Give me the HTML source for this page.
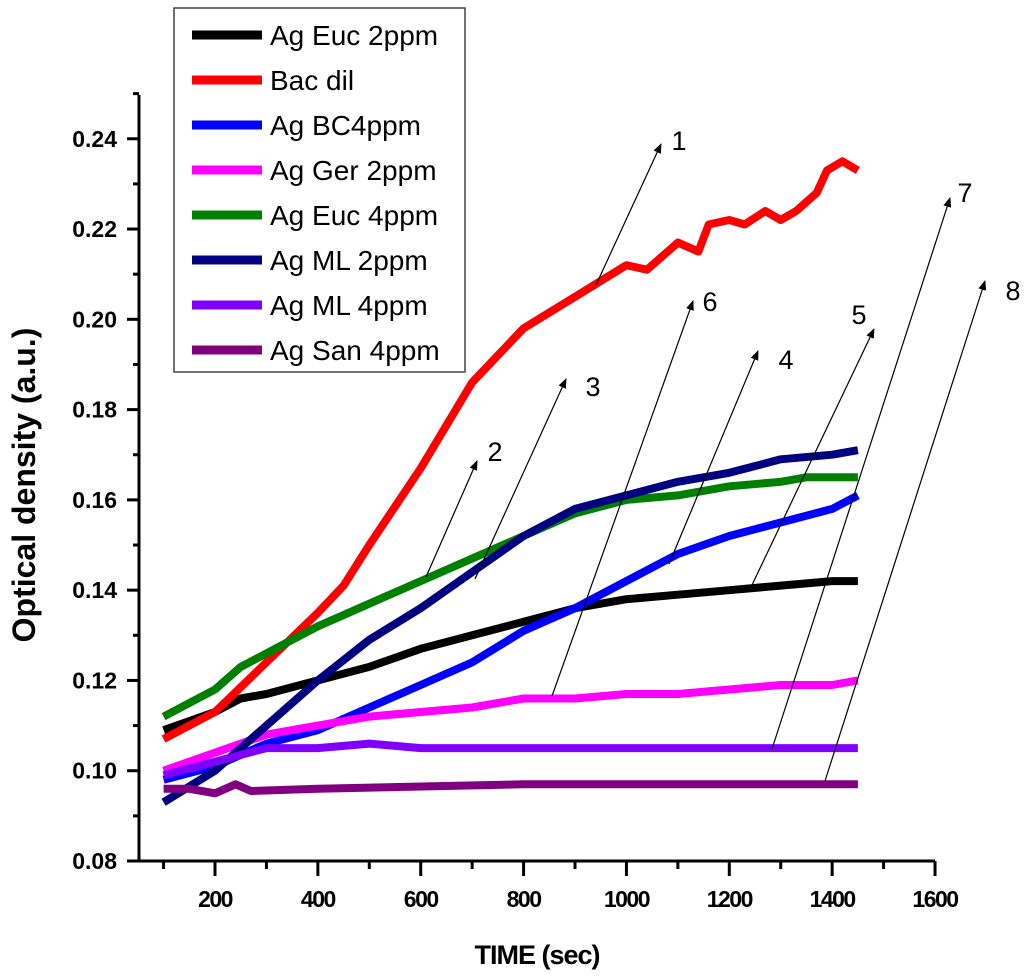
<!DOCTYPE html>
<html><head><meta charset="utf-8"><style>
body{margin:0;background:#fff}
svg{display:block;font-family:"Liberation Sans",Arial,sans-serif}
</style></head><body>
<svg id="chart" width="1024" height="980" viewBox="0 0 1024 980"></svg>
<script>
const xTicks=[200,400,600,800,1000,1200,1400,1600];
const yTicks=[0.08,0.10,0.12,0.14,0.16,0.18,0.20,0.22,0.24];
const seriesNames=["Ag Euc 2ppm","Bac dil","Ag BC4ppm","Ag Ger 2ppm","Ag Euc 4ppm","Ag ML 2ppm","Ag ML 4ppm","Ag San 4ppm"];
const seriesColors=["#000000","#ff0000","#0000ff","#ff00ff","#008000","#000080","#8000ff","#800080"];
const tBlack=[100,200,250,300,400,500,600,700,800,900,1000,1100,1200,1300,1400,1450];
const vBlack=[0.109,0.113,0.116,0.117,0.120,0.123,0.127,0.130,0.133,0.136,0.138,0.139,0.140,0.141,0.142,0.142];
const tRed=[100,200,300,400,450,500,600,700,800,900,1000,1040,1100,1140,1160,1200,1230,1270,1300,1330,1370,1390,1420,1450];
const vRed=[0.107,0.113,0.124,0.135,0.141,0.150,0.167,0.186,0.198,0.205,0.212,0.211,0.217,0.215,0.221,0.222,0.221,0.224,0.222,0.224,0.228,0.233,0.235,0.233];
const tBlue=[100,200,300,400,500,600,700,800,900,1000,1100,1200,1300,1400,1450];
const vBlue=[0.098,0.101,0.106,0.109,0.114,0.119,0.124,0.131,0.136,0.142,0.148,0.152,0.155,0.158,0.161];
const tMag=[100,200,300,400,500,600,700,800,900,1000,1100,1200,1300,1400,1450];
const vMag=[0.100,0.104,0.108,0.110,0.112,0.113,0.114,0.116,0.116,0.117,0.117,0.118,0.119,0.119,0.120];
const tGreen=[100,150,200,250,300,350,400,500,600,700,800,900,1000,1100,1200,1300,1350,1450];
const vGreen=[0.112,0.115,0.118,0.123,0.126,0.129,0.132,0.137,0.142,0.147,0.152,0.157,0.160,0.161,0.163,0.164,0.165,0.165];
const tNavy=[100,200,300,400,500,600,700,800,900,1000,1100,1200,1300,1400,1450];
const vNavy=[0.093,0.100,0.110,0.120,0.129,0.136,0.144,0.152,0.158,0.161,0.164,0.166,0.169,0.170,0.171];
const tViolet=[100,200,300,400,500,600,800,1000,1200,1450];
const vViolet=[0.099,0.102,0.105,0.105,0.106,0.105,0.105,0.105,0.105,0.105];
const tPurple=[100,150,200,240,270,400,800,1450];
const vPurple=[0.096,0.096,0.095,0.097,0.0955,0.096,0.097,0.097];
const seriesT=[tBlack,tRed,tBlue,tMag,tGreen,tNavy,tViolet,tPurple];
const seriesV=[vBlack,vRed,vBlue,vMag,vGreen,vNavy,vViolet,vPurple];
const annoLabels=["1","2","3","4","5","6","7","8"];

const NS="http://www.w3.org/2000/svg";
const svg=document.getElementById('chart');
function X(t){return 215+(t-200)*0.5143;}
function Y(v){return 861-(v-0.08)*4514;}
function mk(tag,attrs,parent){const e=document.createElementNS(NS,tag);for(const k in attrs)e.setAttribute(k,attrs[k]);(parent||svg).appendChild(e);return e;}

let ax=mk('path',{d:`M139 95 L139 861 L935 861`,stroke:'#000','stroke-width':3,fill:'none'});


for(let v=0.09;v<0.25;v+=0.02){let m=mk('line',{x1:133,x2:139,y1:Y(v),y2:Y(v),stroke:'#000','stroke-width':3});

}
yTicks.forEach(v=>{let l=mk('line',{x1:127,x2:139,y1:Y(v),y2:Y(v),stroke:'#000','stroke-width':3});


let t=mk('text',{x:117,y:Y(v)+8,'text-anchor':'end','font-size':23,'font-weight':'bold'});t.textContent=v.toFixed(2);

});
for(let t=100;t<1600;t+=200){let m=mk('line',{x1:X(t),x2:X(t),y1:861,y2:869,stroke:'#000','stroke-width':3});

}
xTicks.forEach(t=>{let l=mk('line',{x1:X(t),x2:X(t),y1:861,y2:876,stroke:'#000','stroke-width':3});


let s=mk('text',{x:X(t),y:907,'text-anchor':'middle','font-size':23,'font-weight':'bold','letter-spacing':'-1.5'});s.textContent=t;

});
let xt=mk('text',{x:537,y:964,'text-anchor':'middle','font-size':27,'font-weight':'bold','letter-spacing':'-1'});xt.textContent='TIME (sec)';


let yt=mk('text',{x:0,y:0,'text-anchor':'middle','font-size':32,'font-weight':'bold',transform:'translate(35,485) rotate(-90)'});yt.textContent='Optical density (a.u.)';



seriesT.forEach((ts,i)=>{const d=ts.map((t,j)=>(j?'L':'M')+X(t).toFixed(1)+' '+Y(seriesV[i][j]).toFixed(1)).join(' ');
let p=mk('path',{d:d,stroke:seriesColors[i],'stroke-width':8,fill:'none','stroke-linejoin':'round'});

});

const arrows=[[596,285,661,144,679,150],[426,577,477,461,495,461],[475,579,566,379,593,396],[669,564,758,351,786,369],[752,585,874,329,859,324],[552,696,693,301,710,311],[772,749,950,198,965,202],[825,781,985,281,1013,300]];
const defs=mk('defs',{});
const mkr=mk('marker',{id:'ah',markerWidth:10,markerHeight:10,refX:9,refY:5,orient:'auto',markerUnits:'userSpaceOnUse'},defs);
mk('path',{d:'M0 1 L10 5 L0 9 Z',fill:'#000'},mkr);
arrows.forEach((a,i)=>{let l=mk('line',{x1:a[0],y1:a[1],x2:a[2],y2:a[3],stroke:'#000','stroke-width':1.2,'marker-end':'url(#ah)'});


let t=mk('text',{x:a[4],y:a[5],'text-anchor':'middle','font-size':27});t.textContent=annoLabels[i];

});

const lg=mk('g',{});


mk('rect',{x:174,y:8,width:291,height:364,fill:'#fff',stroke:'#444','stroke-width':1.5},lg);
seriesNames.forEach((n,i)=>{const y=35+i*45;
const g=mk('g',{},lg);


mk('line',{x1:192,x2:262,y1:y,y2:y,stroke:seriesColors[i],'stroke-width':9},g);
const t=mk('text',{x:270,y:y+10,'font-size':28},g);t.textContent=n;});
</script>
</body></html>
